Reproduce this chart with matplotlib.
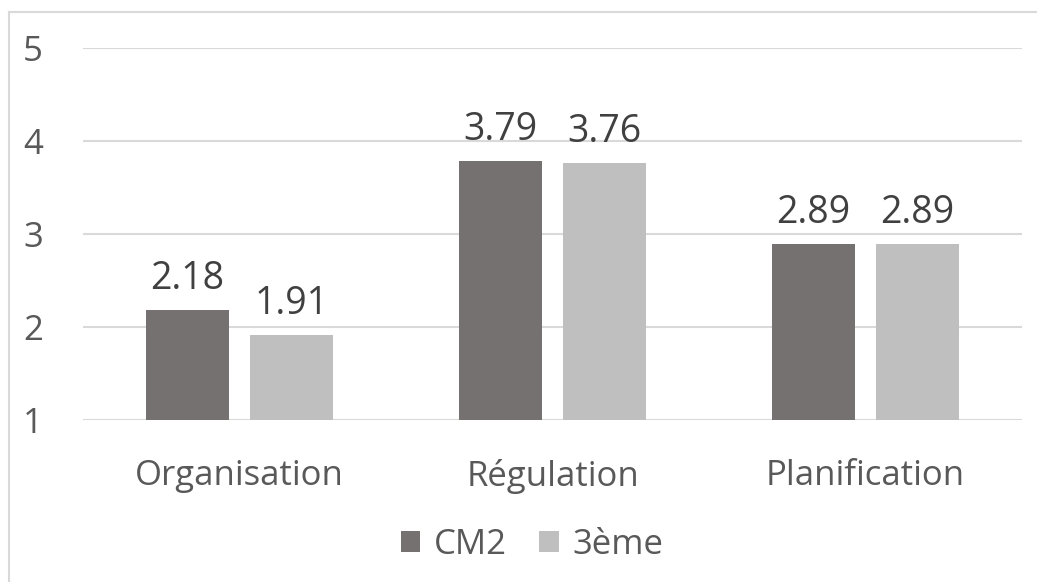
import numpy as np
import matplotlib.pyplot as plt
from matplotlib.lines import Line2D

categories = ["Organisation", "Régulation", "Planification"]
series_names = ["CM2", "3ème"]
cm2 = [2.18, 3.79, 2.89]
troisieme = [1.91, 3.76, 2.89]
yticks = [1, 2, 3, 4, 5]

plt.rcParams["font.family"] = ["Open Sans", "DejaVu Sans"]

fig = plt.figure(figsize=(10.37, 5.82), dpi=100)
ax = fig.add_axes([83/1037, 1 - 420/582, (1022 - 83)/1037, (420 - 48)/582])

x = np.arange(len(categories))
w = 0.268
off = 0.166
b1 = ax.bar(x - off, np.array(cm2) - 1, w, bottom=1, color="#767171", label=series_names[0])
b2 = ax.bar(x + off, np.array(troisieme) - 1, w, bottom=1, color="#BFBFBF", label=series_names[1])

# value labels above the bars
for bars, vals in ((b1, cm2), (b2, troisieme)):
    for r, v in zip(bars, vals):
        ax.text(r.get_x() + r.get_width()/2, v + 0.225, f"{v:.2f}", ha="center", va="baseline",
                fontsize=27, color="#404040")

ax.set_xlim(-0.5, 2.5)
ax.set_ylim(1, 5)
ax.set_yticks(yticks)
ax.set_xticks(x)
ax.set_xticklabels(categories)
ax.tick_params(axis="both", length=0, labelsize=25, labelcolor="#595959")
ax.tick_params(axis="y", pad=29)
ax.tick_params(axis="x", pad=28)
for s in ax.spines.values():
    s.set_visible(False)
ax.grid(axis="y", color="#D9D9D9", linewidth=1.5)
ax.set_axisbelow(True)

fig.legend(handles=[b1, b2], labels=series_names, loc="center", bbox_to_anchor=(532/1037, 1 - 545/582),
           ncol=2, frameon=False, fontsize=25, labelcolor="#595959",
           handlelength=0.55, handleheight=0.55, handletextpad=0.4, columnspacing=0.95)

# chart frame (only top and left edges are visible in the crop)
fig.add_artist(Line2D([9/1037, 9/1037], [0, 1 - 12/582], color="#D9D9D9", linewidth=1.5))
fig.add_artist(Line2D([9/1037, 1], [1 - 12/582, 1 - 12/582], color="#D9D9D9", linewidth=1.5))

fig.savefig("out.png", dpi=100)
